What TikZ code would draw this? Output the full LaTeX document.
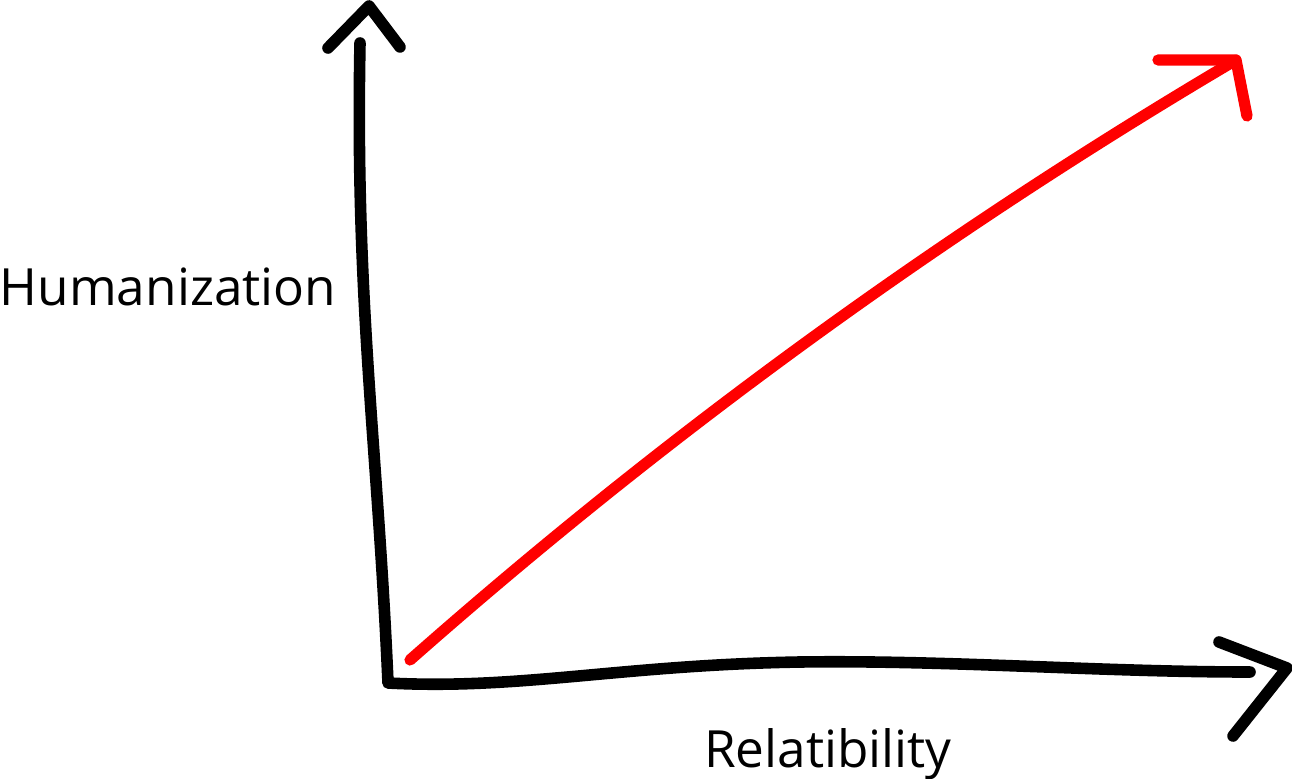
\documentclass[tikz,border=0pt]{standalone}
\usepackage{fontspec}
\setmainfont{Open Sans}
\usepackage{tikz}
\usetikzlibrary{calc}

\begin{document}
\begin{tikzpicture}[x=0.1mm, y=-0.1mm]
            \tikzstyle{axis}=[draw=black, line width=3.3pt, line cap=round, line join=round]
            \tikzstyle{trend}=[draw=red, line width=3.2pt, line cap=round, line join=round]
            \tikzstyle{label}=[inner sep=0pt, anchor=base, font=\fontsize{14.6}{18}\selectfont]
            \useasboundingbox (0,0) rectangle (1292,779);
            % corner and axis ends
            \coordinate (O) at (388,683);
            \coordinate (Ytop) at (360,43);
            \coordinate (Xend) at (1250,672);
            \coordinate (Ytip) at (369,6);
            \coordinate (Xtip) at (1287,668);
            \coordinate (Rstart) at (410,660);
            \coordinate (Rtip) at (1236,60);
            % labels
            \node[label] (hum) at (168,305) {Humanization};
            \node[label] (rel) at (828,767) {Relatibility};
            % axes
            \draw[axis] (Ytop) .. controls (355,300) and (378,450) .. (O)
                .. controls (520,690) and (620,665) .. (800,662)
                .. controls (950,660) and (1100,672) .. (Xend);
            \draw[axis] ($(Ytip)+(-41,42)$) -- (Ytip) -- ($(Ytip)+(31,41)$);
            \draw[axis] ($(Xtip)+(-68,-26)$) -- (Xtip) -- ($(Xtip)+(-54,68)$);
            % red trend
            \draw[trend] (Rstart) .. controls (666,434) and (941,234) .. (Rtip);
            \draw[trend] ($(Rtip)+(-78,0)$) -- (Rtip) -- ($(Rtip)+(11,56)$);
        \end{tikzpicture}
\end{document}
